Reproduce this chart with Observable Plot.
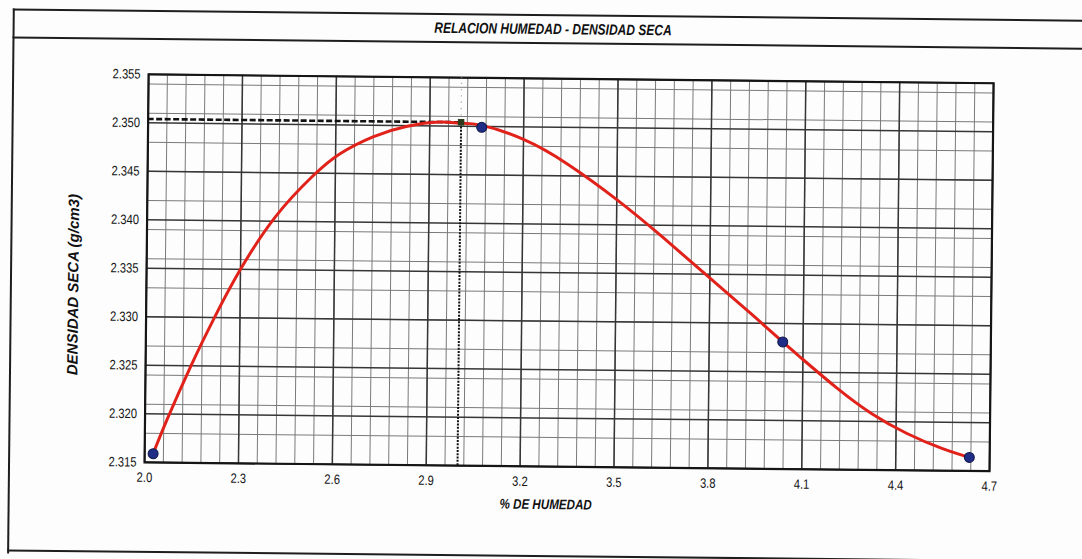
<!DOCTYPE html>
<html>
<head>
<meta charset="utf-8">
<script src="https://cdn.jsdelivr.net/npm/d3@7"></script>
<script src="https://cdn.jsdelivr.net/npm/@observablehq/plot@0.6"></script>
<style>
  html, body { margin: 0; padding: 0; background: #fdfdfd; }
  #page { position: relative; width: 1082px; height: 559px; overflow: visible;
          transform: rotate(0.6deg); transform-origin: 541px 279.5px; }
  .hl { position: absolute; left: 10px; width: 1120px; height: 0; border-top: 2px solid #1e1e1e; }
  .vl { position: absolute; left: 10px; top: 14px; height: 545px; width: 0; border-left: 2px solid #1e1e1e; }
  #title { position: absolute; left: 0; width: 1100px; top: 20px; text-align: center; }
  #title span { display: inline-block; transform: scaleX(0.8); transform-origin: center;
           font: italic bold 15px "Liberation Sans", Arial, sans-serif; color: #111; }
  #chart { position: absolute; left: 0; top: 0; }
</style>
</head>
<body>
<div id="page">
  <div class="hl" style="top:14px"></div>
  <div class="hl" style="top:42px"></div>
  <div class="hl" style="top:555px"></div>
  <div class="vl"></div>
  <div id="title"><span>RELACION HUMEDAD - DENSIDAD SECA</span></div>
  <div id="chart"></div>
</div>
<script>
// Measured points (% humedad, densidad seca g/cm3)
const humedad  = [2.027, 3.066, 4.035, 4.635];
const densidad = [2.3159, 2.3499, 2.3281, 2.3164];

// Fitted curve
const curvaHumedad  = [2.027, 2.070, 2.145, 2.220, 2.300, 2.411, 2.528, 2.613, 2.719, 2.825, 2.931, 2.995, 3.066, 3.200, 3.342, 3.500, 3.647, 3.793, 3.939, 4.035, 4.097, 4.210, 4.322, 4.435, 4.547, 4.635];
const curvaDensidad = [2.3159, 2.3194, 2.3250, 2.3301, 2.3350, 2.3405, 2.3447, 2.3470, 2.3488, 2.3499, 2.3504, 2.3503, 2.3501, 2.3487, 2.3462, 2.3426, 2.3388, 2.3348, 2.3308, 2.3281, 2.3264, 2.3234, 2.3208, 2.3188, 2.3173, 2.3164];

// Optimum (max dry density / optimum moisture)
const omcHumedad = 3.00;
const maxDensidad = 2.3504;

// Axis ticks
const xTicks = [2.0, 2.3, 2.6, 2.9, 3.2, 3.5, 3.8, 4.1, 4.4, 4.7];
const yTicks = [2.315, 2.320, 2.325, 2.330, 2.335, 2.340, 2.345, 2.350, 2.355];
const xDomain = [2.0, 4.7];
const yDomain = [2.315, 2.355];
const xMinorStep = 0.06;
const yMinorStep = 0.003;

const xMinor = d3.range(0, 46).map(i => +(xDomain[0] + i * xMinorStep).toFixed(3)).filter(v => v <= xDomain[1]);
const yMinor = d3.range(0, 14).map(i => +(yDomain[0] + i * yMinorStep).toFixed(4)).filter(v => v <= yDomain[1]);

const puntos = humedad.map((h, i) => ({h, d: densidad[i]}));
const curva = curvaHumedad.map((h, i) => ({h, d: curvaDensidad[i]}));
const optimo = [{h: omcHumedad, d: maxDensidad}];

const sans = "'Liberation Sans', Arial, sans-serif";

const chart = Plot.plot({
  width: 1082,
  height: 559,
  marginLeft: 146,
  marginRight: 91,
  marginTop: 78,
  marginBottom: 93,
  style: { fontFamily: sans, fontSize: "13.5px", color: "#111", background: "transparent" },
  x: { domain: xDomain, ticks: xTicks, tickFormat: d3.format(".1f"), tickSize: 0, tickPadding: 10, label: null },
  y: { domain: yDomain, ticks: yTicks, tickFormat: d3.format(".3f"), tickSize: 0, tickPadding: 8, label: null },
  marks: [
    Plot.ruleX(xMinor, { stroke: "#7a7a7a", strokeWidth: 1 }),
    Plot.ruleY(yMinor, { stroke: "#7a7a7a", strokeWidth: 1 }),
    Plot.ruleX(xTicks, { stroke: "#363636", strokeWidth: 1.5 }),
    Plot.ruleY(yTicks, { stroke: "#363636", strokeWidth: 1.5 }),
    Plot.frame({ stroke: "#151515", strokeWidth: 2.2 }),
    Plot.ruleX(optimo, { x: "h", y1: "d", y2: () => yDomain[1], stroke: "#b0b0b0", strokeWidth: 1.3, strokeDasharray: "1.3,5" }),
    Plot.ruleY(optimo, { y: "d", x1: () => xDomain[0], x2: "h", stroke: "#111", strokeWidth: 2.6, strokeDasharray: "6,2.5" }),
    Plot.ruleX(optimo, { x: "h", y1: () => yDomain[0], y2: "d", stroke: "#111", strokeWidth: 2, strokeDasharray: "2,1.3" }),
    Plot.line(curva, { x: "h", y: "d", stroke: "#e1221b", strokeWidth: 3, curve: "natural" }),
    Plot.dot(puntos, { x: "h", y: "d", r: 5, fill: "#1f2d86", stroke: "#101848", strokeWidth: 1 }),
    Plot.dot(optimo, { x: "h", y: "d", symbol: "square", r: 3.6, fill: "#2c3a1c" }),
    Plot.text(["DENSIDAD SECA (g/cm3)"], { frameAnchor: "left", textAnchor: "middle", lineAnchor: "middle",
      dx: -73, dy: 17, rotate: -90,
      fontFamily: sans, fontWeight: "bold", fontStyle: "italic", fontSize: 15, fill: "#111" }),
    Plot.text(["% DE HUMEDAD"], { frameAnchor: "bottom", textAnchor: "middle", lineAnchor: "middle",
      dx: -21, dy: 38, className: "narrow",
      fontFamily: sans, fontWeight: "bold", fontStyle: "italic", fontSize: 14, fill: "#111" })
  ]
});
document.getElementById("chart").append(chart);

// Condensed look (Arial Narrow-like) for tick labels and the x axis title
const squeeze = (sel, k) => chart.querySelectorAll(sel).forEach(t => {
  const w = t.getComputedTextLength();
  if (w > 0) { t.setAttribute("textLength", (w * k).toFixed(2)); t.setAttribute("lengthAdjust", "spacingAndGlyphs"); }
});
squeeze('g[aria-label="x-axis tick label"] text', 0.83);
squeeze('g[aria-label="y-axis tick label"] text', 0.83);
squeeze('g.narrow text', 0.83);
</script>
</body>
</html>
